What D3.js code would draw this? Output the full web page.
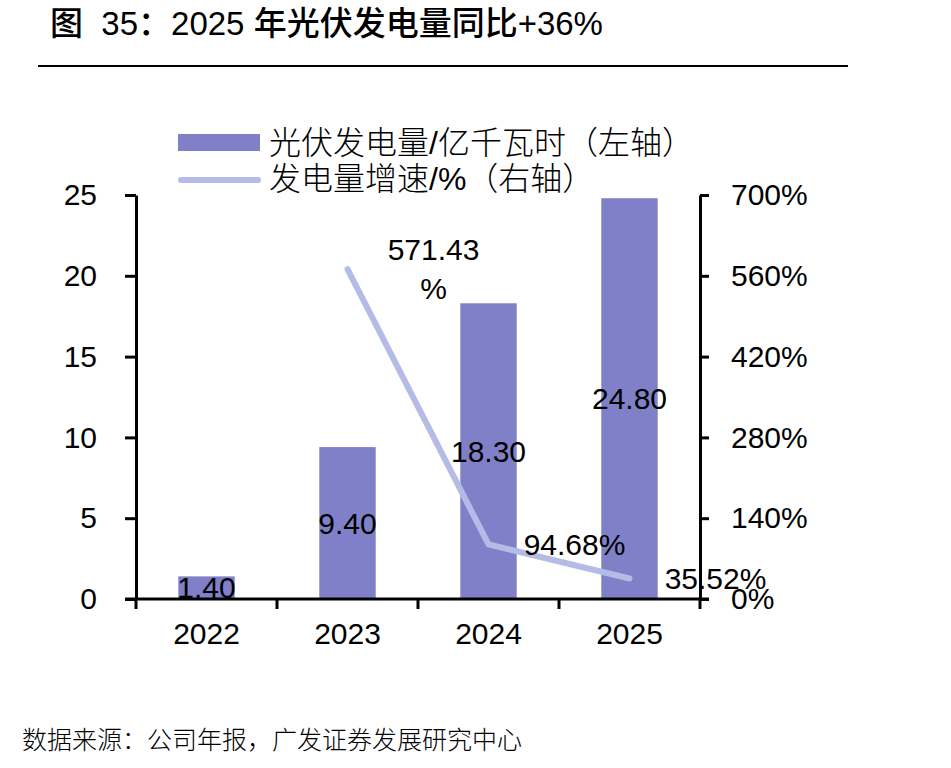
<!DOCTYPE html>
<html>
<head>
<meta charset="utf-8">
<script src="https://cdn.jsdelivr.net/npm/d3@7"></script>
<style>
  body { margin: 0; background: #fff; }
  svg { display: block; }
  text { font-family: "Liberation Sans", Arial, "Noto Sans CJK SC", sans-serif; }
</style>
</head>
<body>
<svg id="chart"></svg>
<script>
let years = ["2022", "2023", "2024", "2025"];
let power = [1.40, 9.40, 18.30, 24.80];
let growth = [null, 571.43, 94.68, 35.52];
let leftTicks = [0, 5, 10, 15, 20, 25];
let rightTicks = [0, 140, 280, 420, 560, 700];

let width = 951, height = 768;
let margin = {top: 195, right: 251, bottom: 169, left: 136};
let plotW = width - margin.left - margin.right;
let plotH = height - margin.top - margin.bottom;
let barColor = "#7f80c8";
let lineColor = "#b4bbe4";
let cjk = "\"Noto Sans CJK SC\", sans-serif";
let latin = "\"Liberation Sans\", Arial, sans-serif";

let svg = d3.select("#chart")
    .attr("width", width)
    .attr("height", height);

// title: chinese a bit heavier, digits regular
let title = svg.append("text")
    .attr("x", 50).attr("y", 35)
    .attr("font-size", 33)
    .attr("xml:space", "preserve")
    .style("white-space", "pre");
let titleParts = [
    ["图", true], ["  35", false], ["：", true], ["2025 ", false],
    ["年光伏发电量同比", true], ["+36%", false]
];
titleParts.forEach(function (p) {
    title.append("tspan")
        .attr("font-family", p[1] ? cjk : latin)
        .attr("font-weight", p[1] ? 500 : "normal")
        .text(p[0]);
});
svg.append("line")
    .attr("x1", 38).attr("x2", 848)
    .attr("y1", 66).attr("y2", 66)
    .attr("stroke", "#000").attr("stroke-width", 2);

let g = svg.append("g")
    .attr("transform", "translate(" + margin.left + "," + margin.top + ")");

let x = d3.scaleBand()
    .range([0, plotW])
    .domain(years)
    .paddingInner(0.6)
    .paddingOuter(0.3);
let y = d3.scaleLinear().domain([0, 25]).range([plotH, 0]);
let y2 = d3.scaleLinear().domain([0, 700]).range([plotH, 0]);

// bars
g.selectAll(".bar")
    .data(power)
    .enter().append("rect")
    .attr("class", "bar")
    .attr("x", (d, i) => x(years[i]))
    .attr("width", x.bandwidth())
    .attr("y", d => y(d))
    .attr("height", d => plotH - y(d))
    .attr("fill", barColor);

// line
let pts = [];
for (let i = 0; i < years.length; i++) {
    if (growth[i] !== null) pts.push({year: years[i], v: growth[i]});
}
let line = d3.line()
    .x(d => x(d.year) + x.bandwidth() / 2)
    .y(d => y2(d.v));
g.append("path")
    .datum(pts)
    .attr("d", line)
    .attr("fill", "none")
    .attr("stroke", lineColor)
    .attr("stroke-width", 6)
    .attr("stroke-linecap", "round")
    .attr("stroke-linejoin", "round");

// axes
function styleAxis(sel) {
    sel.select(".domain").attr("stroke", "#000").attr("stroke-width", 3);
    sel.selectAll(".tick line").attr("stroke", "#000").attr("stroke-width", 3);
    sel.selectAll(".tick text").attr("font-size", 30).attr("fill", "#000")
        .attr("font-family", latin);
}

let leftAxis = g.append("g")
    .call(d3.axisLeft(y).tickValues(leftTicks).tickSize(11).tickPadding(28).tickSizeOuter(0));
styleAxis(leftAxis);

let rightAxis = g.append("g")
    .attr("transform", "translate(" + plotW + ",0)")
    .call(d3.axisRight(y2).tickValues(rightTicks).tickSize(9).tickPadding(22).tickSizeOuter(0)
        .tickFormat(d => d + "%"));
styleAxis(rightAxis);

let bottomAxis = g.append("g")
    .attr("transform", "translate(0," + plotH + ")")
    .call(d3.axisBottom(x).tickSize(0).tickPadding(24).tickSizeOuter(0));
styleAxis(bottomAxis);
bottomAxis.select(".domain").attr("d", "M-11,0H" + (plotW + 9));

// category boundary ticks
let bounds = [];
for (let i = 0; i <= years.length; i++) bounds.push(x.step() * i);
g.selectAll(".btick")
    .data(bounds)
    .enter().append("line")
    .attr("x1", d => d).attr("x2", d => d)
    .attr("y1", plotH).attr("y2", plotH + 10)
    .attr("stroke", "#000").attr("stroke-width", 3);

// bar labels
g.selectAll(".blabel")
    .data(power)
    .enter().append("text")
    .attr("x", (d, i) => x(years[i]) + x.bandwidth() / 2)
    .attr("y", d => (y(d) + plotH) / 2)
    .attr("dy", "0.36em")
    .attr("text-anchor", "middle")
    .attr("font-size", 30)
    .text(d => d.toFixed(2));

// line labels, right of each point
let lbl = g.selectAll(".llabel")
    .data(pts)
    .enter().append("text")
    .attr("text-anchor", "middle")
    .attr("font-size", 30)
    .attr("transform", d => "translate(" + (x(d.year) + x.bandwidth() / 2 + 86) + "," + y2(d.v) + ")");
lbl.each(function (d) {
    let t = d3.select(this);
    if (d.v > 500) {
        t.append("tspan").attr("x", 0).attr("dy", "-0.3em").text(d.v.toFixed(2));
        t.append("tspan").attr("x", 0).attr("dy", "1.3em").text("%");
    } else {
        t.append("tspan").attr("x", 0).attr("dy", "0.36em").text(d.v.toFixed(2) + "%");
    }
});

// legend
let leg = svg.append("g");
leg.append("rect")
    .attr("x", 178).attr("y", 134)
    .attr("width", 82).attr("height", 17)
    .attr("fill", barColor);
leg.append("text")
    .attr("x", 269).attr("y", 142).attr("dy", "0.36em")
    .attr("font-size", 32)
    .attr("font-weight", 300)
    .attr("font-family", cjk)
    .text("光伏发电量/亿千瓦时（左轴）");
leg.append("line")
    .attr("x1", 181).attr("x2", 258)
    .attr("y1", 180).attr("y2", 180)
    .attr("stroke", lineColor).attr("stroke-width", 6)
    .attr("stroke-linecap", "round");
leg.append("text")
    .attr("x", 269).attr("y", 178).attr("dy", "0.36em")
    .attr("font-size", 32)
    .attr("font-weight", 300)
    .attr("font-family", cjk)
    .text("发电量增速/%（右轴）");

// source
svg.append("text")
    .attr("x", 22).attr("y", 749)
    .attr("font-size", 25)
    .attr("font-weight", 300)
    .attr("font-family", cjk)
    .text("数据来源：公司年报，广发证券发展研究中心");
</script>
</body>
</html>
